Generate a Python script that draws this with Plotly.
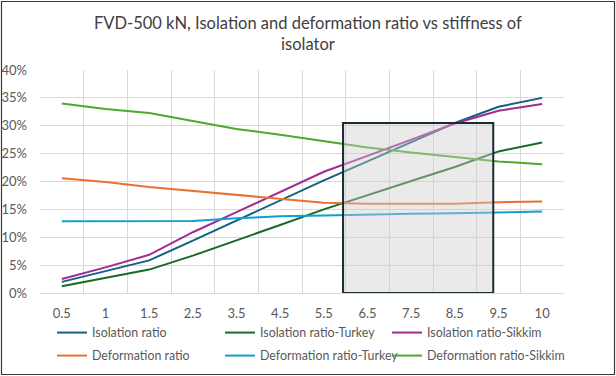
import plotly.graph_objects as go

stiffness = ["0.5", "1", "1.5", "2.5", "3.5", "4.5", "5.5", "6.5", "7.5", "8.5", "9.5", "10"]

isolation_ratio = [0.020, 0.039, 0.0585, 0.094, 0.130, 0.166, 0.202, 0.236, 0.270, 0.305, 0.334, 0.350]
isolation_turkey = [0.012, 0.027, 0.042, 0.067, 0.094, 0.122, 0.150, 0.176, 0.201, 0.226, 0.254, 0.270]
isolation_sikkim = [0.025, 0.046, 0.0685, 0.109, 0.145, 0.182, 0.2175, 0.246, 0.275, 0.304, 0.327, 0.339]
deformation_ratio = [0.206, 0.199, 0.190, 0.183, 0.175, 0.168, 0.162, 0.160, 0.160, 0.160, 0.163, 0.164]
deformation_turkey = [0.1285, 0.1285, 0.1285, 0.129, 0.134, 0.1375, 0.139, 0.141, 0.142, 0.143, 0.145, 0.146]
deformation_sikkim = [0.340, 0.330, 0.323, 0.308, 0.294, 0.284, 0.272, 0.261, 0.252, 0.244, 0.236, 0.231]

series_names = ["Isolation ratio", "Isolation ratio-Turkey", "Isolation ratio-Sikkim",
                "Deformation ratio", "Deformation ratio-Turkey", "Deformation ratio-Sikkim"]
series_values = [isolation_ratio, isolation_turkey, isolation_sikkim,
                 deformation_ratio, deformation_turkey, deformation_sikkim]
series_colors = ["#156082", "#196B24", "#A02B93", "#E97132", "#0F9ED5", "#4EA72E"]

left_ticks = [0, 0.05, 0.10, 0.15, 0.20, 0.25, 0.30, 0.35, 0.40]
right_ticks = [0, 0.2, 0.4, 0.6, 0.8, 1.0, 1.2]

title_text = "FVD-500 kN, Isolation and deformation ratio vs stiffness of<br>isolator"

# highlighted region (category-index units on x, left-axis units on y)
box_x = (6.44, 9.88)
box_y = (0.0, 0.305)

FONT = "Lato"
W, H = 616, 376
ML, MR, MT, MB = 40, 52, 70, 83
pw = W - ML - MR
ph = H - MT - MB

# legend grid: 3 columns x 2 rows (pixel positions of each entry)
legend_cols_px = [52, 220, 387]
legend_rows_px = [333, 356]

fig = go.Figure()
legend_layout = {}
for i, (name, vals, col) in enumerate(zip(series_names, series_values, series_colors)):
    key = "legend" if i == 0 else f"legend{i + 1}"
    fig.add_trace(go.Scatter(x=stiffness, y=vals, name=name, mode="lines", legend=key,
                             line=dict(color=col, width=2)))
    legend_layout[key] = dict(orientation="v", xref="container", yref="container",
                              x=legend_cols_px[i % 3] / W, y=1 - legend_rows_px[i // 3] / H,
                              xanchor="left", yanchor="middle",
                              font=dict(size=12.4, color="#595959"), itemwidth=30,
                              bgcolor="rgba(0,0,0,0)", borderwidth=0)

fig.add_shape(type="rect", xref="x", yref="y", x0=box_x[0], x1=box_x[1], y0=box_y[0], y1=box_y[1],
              fillcolor="rgba(205,205,205,0.42)", line=dict(color="#1B2B33", width=2), layer="above")

fig.add_shape(type="rect", xref="paper", yref="paper",
              x0=(1.5 - ML) / pw, x1=(W - 1.5 - ML) / pw,
              y0=-(H - 1.5 - MT - ph) / ph, y1=(MT - 1.5) / ph + 1,
              line=dict(color="#3a3a3a", width=1.2), fillcolor="rgba(0,0,0,0)", layer="below")

fig.add_annotation(text=title_text, xref="paper", yref="paper",
                   x=(308 - ML) / pw, y=1 + (MT - 33.5) / ph, xanchor="center", yanchor="middle",
                   showarrow=False, font=dict(family=FONT, size=16.5, color="#404040"))

fig.update_layout(
    width=W, height=H,
    margin=dict(l=ML, r=MR, t=MT, b=MB, autoexpand=False),
    paper_bgcolor="white", plot_bgcolor="white",
    font=dict(family=FONT, color="#595959", size=12),
    xaxis=dict(type="category", categoryorder="array", categoryarray=stiffness,
               range=[-0.5, len(stiffness) - 0.5], tickson="boundaries",
               showgrid=True, gridcolor="#D9D9D9", gridwidth=1, automargin=False,
               showline=True, linecolor="#D9D9D9", linewidth=1, ticks="",
               tickfont=dict(size=13, color="#595959"), ticklabelstandoff=8, zeroline=False),
    yaxis=dict(range=[0, 0.4], tickvals=left_ticks, tickformat=".0%", automargin=False,
               showgrid=True, gridcolor="#D9D9D9", gridwidth=1, zeroline=False,
               showline=False, ticks="", tickfont=dict(size=13, color="#595959"), ticklabelstandoff=12),
    yaxis2=dict(range=[0, 1.2], tickvals=right_ticks, tickformat=".0%", overlaying="y", side="right",
                showgrid=False, zeroline=False, showline=True, linecolor="#D9D9D9", linewidth=1,
                ticks="outside", ticklen=5, tickcolor="#D9D9D9", automargin=False,
                tickfont=dict(size=13, color="#595959"), ticklabelstandoff=8),
    showlegend=True,
    **legend_layout,
)

fig.write_html("out.html", config={"displayModeBar": False},
               post_script="document.body.style.margin='0';document.body.style.overflow='hidden';")
